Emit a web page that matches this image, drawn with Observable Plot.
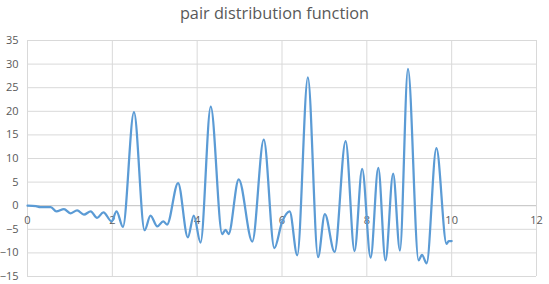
<!DOCTYPE html>
<html>
<head>
<meta charset="utf-8">
<script src="https://cdn.jsdelivr.net/npm/d3@7"></script>
<script src="https://cdn.jsdelivr.net/npm/@observablehq/plot@0.6"></script>
<style>
  html, body { margin: 0; padding: 0; background: #fff; }
  #chart { position: relative; width: 549px; height: 284px; }
  #title { position: absolute; left: 0; top: 2px; width: 549px; text-align: center;
           font-family: "Open Sans", sans-serif; font-size: 16.3px; color: #595959; line-height: 22px; }
  #chart svg { position: absolute; left: 0; top: 0; }
</style>
</head>
<body>
<div id="chart"><div id="title">pair distribution function</div></div>
<script>
const title = "pair distribution function";
const xTicks = [0, 2, 4, 6, 8, 10, 12];
const yTicks = [-15, -10, -5, 0, 5, 10, 15, 20, 25, 30, 35];
const rValues = [0, 0.2, 0.3, 0.55, 0.68, 0.86, 1.01, 1.17, 1.33, 1.49, 1.64, 1.79, 1.98, 2.10, 2.25, 2.51, 2.76, 2.90, 3.06, 3.20, 3.29, 3.55, 3.78, 3.92, 4.08, 4.32, 4.59, 4.67, 4.74, 4.98, 5.30, 5.57, 5.82, 6.0, 6.18, 6.36, 6.61, 6.85, 7.01, 7.24, 7.50, 7.71, 7.89, 8.09, 8.27, 8.44, 8.62, 8.78, 8.97, 9.22, 9.30, 9.41, 9.64, 9.88, 9.93, 10.0];
const gValues = [0, -0.1, -0.3, -0.3, -1.2, -0.7, -1.6, -1.0, -1.9, -1.2, -2.6, -1.4, -3.3, -1.2, -4.5, 19.8, -5.2, -2.1, -4.4, -3.3, -4.0, 4.8, -6.7, -2.1, -7.8, 21.0, -6.0, -5.1, -6.0, 5.6, -7.6, 14.0, -9.0, -3.5, -1.2, -10.5, 27.2, -10.9, -1.8, -9.8, 13.7, -9.6, 7.8, -11.0, 8.0, -11.6, 6.8, -9.5, 29.0, -11.6, -10.4, -12.2, 12.2, -8.1, -7.5, -7.5];

const data = rValues.map((r, i) => ({r, g: gValues[i]}));

const plot = Plot.plot({
  width: 549,
  height: 284,
  marginLeft: 27,
  marginRight: 13,
  marginTop: 40,
  marginBottom: 8,
  style: {fontFamily: "Open Sans, sans-serif", fontSize: "11px", background: "transparent"},
  x: {domain: [0, 12], axis: null},
  y: {domain: [-15, 35]},
  marks: [
    Plot.ruleY(yTicks.filter(d => d !== 0), {stroke: "#D9D9D9", strokeWidth: 1}),
    Plot.ruleX(xTicks, {stroke: "#D9D9D9", strokeWidth: 1}),
    Plot.ruleY([0], {stroke: "#BFBFBF", strokeWidth: 1}),
    Plot.axisY({ticks: yTicks, tickSize: 0, tickPadding: 9, fill: "#595959", label: null}),
    Plot.text(xTicks, {x: d => d, y: () => 0, text: d => String(d), dy: 15, fill: "#595959", textAnchor: "middle", fontSize: 11}),
    Plot.line(data, {x: "r", y: "g", stroke: "#5B9BD5", strokeWidth: 2.25, curve: "monotone-x", strokeLinejoin: "round"})
  ]
});
document.getElementById("chart").appendChild(plot);
</script>
</body>
</html>
